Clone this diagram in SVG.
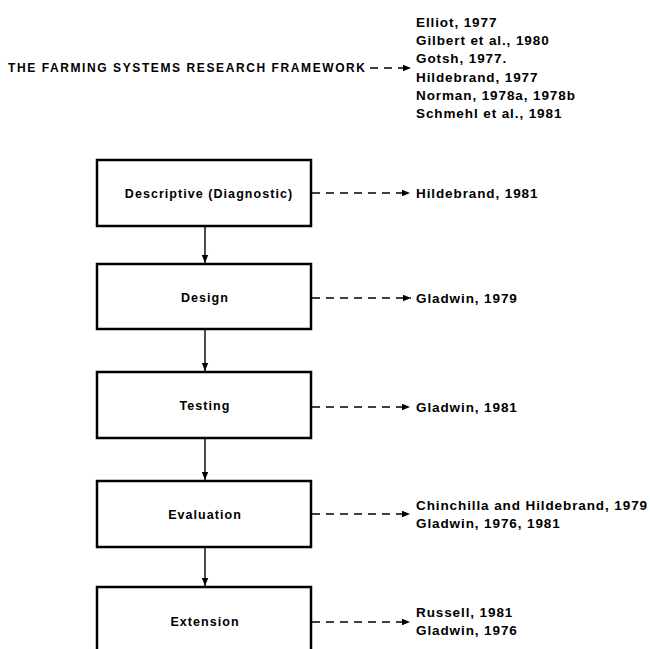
<svg xmlns="http://www.w3.org/2000/svg" width="650" height="649" viewBox="0 0 650 649">
<defs>
<style>
text{font-family:"Liberation Sans",Arial,sans-serif;font-weight:bold;fill:#000}
.lbl{font-size:12.5px;text-anchor:middle;letter-spacing:1.05px}
.ref{font-size:13.5px;letter-spacing:0.9px}
.hdr{font-size:12px}
.box{fill:#fff;stroke:#000;stroke-width:2.5}
.flow{stroke:#000;stroke-width:1.4;fill:none}
.dash{stroke:#000;stroke-width:1.6;fill:none;stroke-dasharray:8 6}
</style>
<marker id="ah" viewBox="0 0 10 10" refX="10" refY="5" markerWidth="8" markerHeight="8" markerUnits="userSpaceOnUse" orient="auto">
<path d="M0,1 L10,5 L0,9 z" fill="#000"/>
</marker>
</defs>
<rect width="650" height="649" fill="#fff"/>

<g id="header">
<text class="hdr" x="8" y="72" textLength="357" lengthAdjust="spacing">THE FARMING SYSTEMS RESEARCH FRAMEWORK</text>
</g>
<g id="header-refs">
<text class="ref" x="416" y="26.5">Elliot, 1977</text>
<text class="ref" x="416" y="45">Gilbert et al., 1980</text>
<text class="ref" x="416" y="63">Gotsh, 1977.</text>
<text class="ref" x="416" y="81.5">Hildebrand, 1977</text>
<text class="ref" x="416" y="99.5">Norman, 1978a, 1978b</text>
<text class="ref" x="416" y="117.5">Schmehl et al., 1981</text>
</g>

<g id="n1">
<rect class="box" x="97" y="160" width="214" height="66"/>
<text class="lbl" x="209" y="197.5">Descriptive (Diagnostic)</text>
</g>
<g id="n2">
<rect class="box" x="97" y="264" width="214" height="65"/>
<text class="lbl" x="205" y="302">Design</text>
</g>
<g id="n3">
<rect class="box" x="97" y="372" width="214" height="66"/>
<text class="lbl" x="205" y="410">Testing</text>
</g>
<g id="n4">
<rect class="box" x="97" y="481" width="214" height="66"/>
<text class="lbl" x="205" y="518.5">Evaluation</text>
</g>
<g id="n5">
<rect class="box" x="97" y="587" width="214" height="80"/>
<text class="lbl" x="205" y="625.5">Extension</text>
</g>

<g id="refs">
<text class="ref" x="416" y="198">Hildebrand, 1981</text>
<text class="ref" x="416" y="303">Gladwin, 1979</text>
<text class="ref" x="416" y="412">Gladwin, 1981</text>
<text class="ref" x="416" y="509.5">Chinchilla and Hildebrand, 1979</text>
<text class="ref" x="416" y="527.5">Gladwin, 1976, 1981</text>
<text class="ref" x="416" y="616.5">Russell, 1981</text>
<text class="ref" x="416" y="635">Gladwin, 1976</text>
</g>

<g id="connectors">
<line class="flow" x1="205" y1="226" x2="205" y2="263" marker-end="url(#ah)"/>
<line class="flow" x1="205" y1="329" x2="205" y2="371" marker-end="url(#ah)"/>
<line class="flow" x1="205" y1="438" x2="205" y2="480" marker-end="url(#ah)"/>
<line class="flow" x1="205" y1="547" x2="205" y2="586" marker-end="url(#ah)"/>
<line class="dash" x1="370" y1="68" x2="411" y2="68" marker-end="url(#ah)"/>
<line class="dash" x1="312" y1="193" x2="410" y2="193" marker-end="url(#ah)"/>
<line class="dash" x1="312" y1="298" x2="411" y2="298" marker-end="url(#ah)"/>
<line class="dash" x1="312" y1="407" x2="410" y2="407" marker-end="url(#ah)"/>
<line class="dash" x1="312" y1="514" x2="410" y2="514" marker-end="url(#ah)"/>
<line class="dash" x1="312" y1="622" x2="410" y2="622" marker-end="url(#ah)"/>
</g>
</svg>
